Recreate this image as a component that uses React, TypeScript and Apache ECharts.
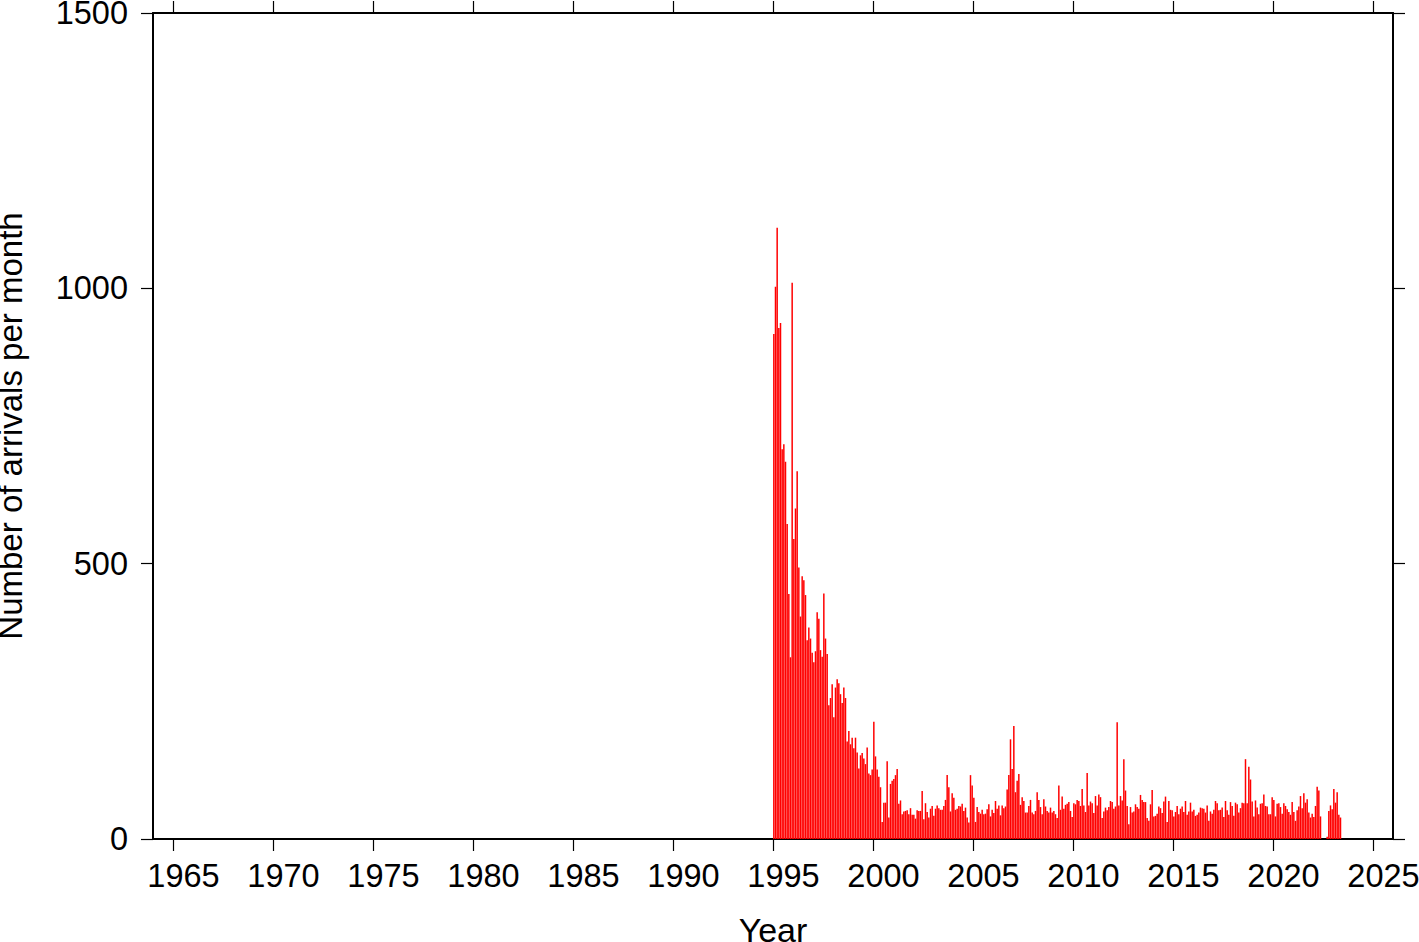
import React, { useEffect, useRef } from "react";
import * as echarts from "echarts";

// Monthly arrival counts, starting January 1995 (one row per year)
const START_YEAR = 1995;
const monthlyArrivals: number[] = [
  917, 1003, 1110, 928, 937, 708, 717, 685, 572, 445, 330, 1010, // 1995
  545, 600, 668, 493, 404, 477, 470, 443, 361, 384, 364, 338, // 1996
  321, 341, 412, 400, 343, 331, 446, 364, 336, 243, 256, 281, // 1997
  221, 275, 290, 283, 263, 247, 275, 256, 177, 196, 172, 184, // 1998
  165, 184, 157, 128, 152, 156, 146, 136, 166, 119, 116, 126, // 1999
  213, 150, 126, 113, 94, 31, 66, 66, 141, 39, 100, 106, // 2000
  109, 116, 127, 64, 70, 45, 50, 51, 52, 45, 56, 44, // 2001
  44, 37, 52, 51, 51, 87, 36, 65, 49, 39, 55, 60, // 2002
  42, 55, 61, 56, 53, 53, 60, 71, 116, 94, 50, 83, // 2003
  75, 53, 55, 60, 59, 64, 51, 57, 39, 30, 116, 97, // 2004
  75, 31, 58, 49, 46, 53, 45, 46, 54, 63, 41, 53, // 2005
  47, 69, 55, 61, 43, 61, 56, 59, 90, 116, 181, 127, // 2006
  205, 85, 106, 118, 62, 76, 69, 48, 48, 60, 71, 48, // 2007
  45, 51, 85, 71, 58, 45, 72, 59, 51, 48, 57, 48, // 2008
  51, 45, 38, 97, 53, 77, 55, 62, 64, 67, 51, 40, // 2009
  65, 63, 71, 69, 60, 91, 61, 49, 120, 61, 68, 65, // 2010
  47, 78, 61, 81, 76, 38, 50, 57, 52, 58, 69, 67, // 2011
  55, 59, 212, 61, 78, 70, 145, 88, 60, 27, 58, 48, // 2012
  50, 63, 58, 55, 80, 71, 67, 67, 38, 33, 63, 89, // 2013
  41, 42, 46, 59, 56, 47, 68, 77, 31, 69, 53, 52, // 2014
  41, 49, 60, 45, 55, 59, 49, 69, 44, 50, 66, 50, // 2015
  53, 42, 44, 48, 57, 56, 55, 48, 61, 33, 50, 46, // 2016
  53, 69, 65, 52, 53, 57, 40, 69, 52, 44, 67, 60, // 2017
  42, 66, 63, 48, 56, 66, 65, 145, 65, 131, 108, 68, // 2018
  41, 70, 57, 45, 64, 65, 81, 60, 59, 45, 45, 76, // 2019
  71, 41, 64, 65, 58, 46, 65, 60, 54, 49, 44, 67, // 2020
  49, 33, 52, 59, 78, 56, 83, 66, 72, 48, 39, 46, // 2021
  40, 60, 95, 88, 41, 0, 0, 0, 4, 51, 61, 54, // 2022
  91, 66, 85, 44, 39, // 2023
];

const X_MIN = 1964;
const X_MAX = 2026;
const xTickYears = [1965, 1970, 1975, 1980, 1985, 1990, 1995, 2000, 2005, 2010, 2015, 2020, 2025];
const Y_MIN = 0;
const Y_MAX = 1500;
const Y_STEP = 500;

export default function App() {
  const ref = useRef<HTMLDivElement>(null);

  useEffect(() => {
    const chart = echarts.init(ref.current!, null, { renderer: "svg" });
    const font = "'Liberation Sans', Arial, Helvetica, sans-serif";
    const data = monthlyArrivals.map((v, i) => [START_YEAR + (i + 0.5) / 12, v]);
    const plain = (v: number) => String(v);

    const lineStyle = { color: "#000", width: 2 };
    const tickStyle = { color: "#000", width: 1.2 };

    chart.setOption({
      animation: false,
      backgroundColor: "#ffffff",
      grid: { left: 153, right: 26, top: 13, bottom: 103, containLabel: false, outerBoundsMode: "none" },
      xAxis: [
        {
          type: "value",
          min: X_MIN,
          max: X_MAX,
          position: "bottom",
          axisLine: { show: true, onZero: false, lineStyle },
          axisTick: { show: true, inside: false, length: 12, lineStyle: tickStyle, customValues: xTickYears },
          axisLabel: {
            show: true,
            customValues: xTickYears,
            formatter: plain,
            margin: 20,
            padding: [0, 0, 0, 21],
            color: "#000",
            fontSize: 32.5,
            fontFamily: font,
          },
          splitLine: { show: false },
          name: "Year",
          nameLocation: "middle",
          nameGap: 74,
          nameTextStyle: { color: "#000", fontSize: 34, fontFamily: font },
        },
        {
          type: "value",
          min: X_MIN,
          max: X_MAX,
          position: "top",
          axisLine: { show: true, onZero: false, lineStyle },
          axisTick: { show: true, inside: false, length: 12, lineStyle: tickStyle, customValues: xTickYears },
          axisLabel: { show: false },
          splitLine: { show: false },
        },
      ],
      yAxis: [
        {
          type: "value",
          min: Y_MIN,
          max: Y_MAX,
          interval: Y_STEP,
          position: "left",
          axisLine: { show: true, onZero: false, lineStyle },
          axisTick: { show: true, inside: false, length: 12, lineStyle: tickStyle },
          axisLabel: { show: true, formatter: plain, margin: 25, color: "#000", fontSize: 32.5, fontFamily: font },
          splitLine: { show: false },
          name: "Number of arrivals per month",
          nameLocation: "middle",
          nameGap: 126,
          nameRotate: 90,
          nameTextStyle: { color: "#000", fontSize: 33, fontFamily: font },
        },
        {
          type: "value",
          min: Y_MIN,
          max: Y_MAX,
          interval: Y_STEP,
          position: "right",
          axisLine: { show: true, onZero: false, lineStyle },
          axisTick: { show: true, inside: false, length: 12, lineStyle: tickStyle },
          axisLabel: { show: false },
          splitLine: { show: false },
        },
      ],
      series: [
        {
          type: "bar",
          xAxisIndex: 0,
          yAxisIndex: 0,
          data,
          barWidth: 1.5,
          silent: true,
          itemStyle: { color: "#ff0000" },
        },
      ],
    });

    return () => chart.dispose();
  }, []);

  return (
    <div
      ref={ref}
      style={{ position: "fixed", left: 0, top: 0, width: 1419, height: 942, background: "#fff" }}
    />
  );
}
